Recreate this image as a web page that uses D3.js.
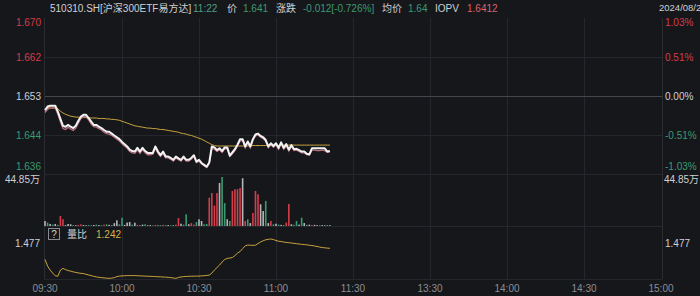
<!DOCTYPE html>
<html>
<head>
<meta charset="utf-8">
<script src="https://cdn.jsdelivr.net/npm/d3@7"></script>
<style>
  html, body { margin: 0; padding: 0; background: #16171b; }
  svg { display: block; font-family: "Liberation Sans", "Noto Sans CJK SC", sans-serif; }
</style>
</head>
<body>
<svg id="chart" width="700" height="296"></svg>
<script>
// DATA -------------------------------------------------------------------
const timeTicks = [0, 30, 60, 90, 120, 150, 180, 210, 240];
const timeLabels = ["09:30", "10:00", "10:30", "11:00", "11:30", "13:30", "14:00", "14:30", "15:00"];

const priceTicks = [1.670, 1.6615, 1.653, 1.6445, 1.636];
const priceLabels = ["1.670", "1.662", "1.653", "1.644", "1.636"];
const pctLabels = ["1.03%", "0.51%", "0.00%", "-0.51%", "-1.03%"];
const prevClose = 1.653;

// one value per minute from 09:30
const price = [1.6499,1.6507,1.6509,1.6509,1.6509,1.6496,1.6480,1.6465,1.6463,1.6467,
  1.6463,1.6460,1.6465,1.6476,1.6485,1.6489,1.6489,1.6482,1.6474,1.6467,
  1.6467,1.6463,1.6460,1.6456,1.6452,1.6452,1.6448,1.6444,1.6440,1.6436,
  1.6430,1.6425,1.6420,1.6413,1.6410,1.6409,1.6417,1.6409,1.6417,1.6410,
  1.6406,1.6406,1.6406,1.6420,1.6409,1.6401,1.6409,1.6398,1.6398,1.6395,
  1.6391,1.6398,1.6394,1.6391,1.6398,1.6391,1.6391,1.6395,1.6401,1.6387,
  1.6391,1.6384,1.6380,1.6376,1.6385,1.6420,1.6418,1.6412,1.6416,1.6410,
  1.6418,1.6418,1.6400,1.6407,1.6414,1.6424,1.6436,1.6436,1.6420,1.6431,
  1.6420,1.6436,1.6446,1.6448,1.6443,1.6440,1.6434,1.6420,1.6427,1.6421,
  1.6427,1.6417,1.6429,1.6417,1.6425,1.6413,1.6423,1.6414,1.6415,1.6412,
  1.6409,1.6409,1.6404,1.6403,1.6416,1.6416,1.6416,1.6416,1.6416,1.6416,
  1.6409,1.6410];

const iopv = [1.6494,1.6501,1.6504,1.6503,1.6504,1.6490,1.6474,1.6459,1.6457,1.6462,
  1.6458,1.6455,1.6460,1.6471,1.6481,1.6485,1.6485,1.6478,1.6469,1.6463,
  1.6462,1.6459,1.6456,1.6451,1.6448,1.6447,1.6444,1.6440,1.6436,1.6432,
  1.6426,1.6421,1.6416,1.6409,1.6406,1.6405,1.6412,1.6405,1.6413,1.6406,
  1.6402,1.6402,1.6403,1.6416,1.6405,1.6398,1.6405,1.6395,1.6395,1.6392,
  1.6388,1.6395,1.6391,1.6388,1.6395,1.6388,1.6388,1.6392,1.6398,1.6385,
  1.6388,1.6382,1.6378,1.6374,1.6383,1.6416,1.6414,1.6409,1.6413,1.6407,
  1.6415,1.6415,1.6398,1.6404,1.6411,1.6421,1.6432,1.6433,1.6417,1.6428,
  1.6417,1.6433,1.6443,1.6445,1.6440,1.6437,1.6431,1.6417,1.6424,1.6418,
  1.6424,1.6414,1.6426,1.6414,1.6422,1.6410,1.6420,1.6411,1.6412,1.6409,
  1.6406,1.6406,1.6402,1.6401,1.6412,1.6412,1.6411,1.6411,1.6412,1.6411,
  1.6407,1.6408];

const avgPrice = [1.6500,1.6504,1.6506,1.6506,1.6505,1.6502,1.6497,1.6493,1.6490,1.6488,
  1.6486,1.6485,1.6484,1.6484,1.6483,1.6483,1.6483,1.6483,1.6482,1.6482,
  1.6482,1.6481,1.6481,1.6481,1.6480,1.6480,1.6479,1.6479,1.6478,1.6477,
  1.6475,1.6473,1.6471,1.6469,1.6467,1.6465,1.6464,1.6463,1.6462,1.6461,
  1.6460,1.6460,1.6459,1.6459,1.6458,1.6457,1.6457,1.6456,1.6455,1.6454,
  1.6453,1.6452,1.6451,1.6449,1.6448,1.6447,1.6445,1.6444,1.6442,1.6440,
  1.6438,1.6436,1.6433,1.6430,1.6427,1.6424,1.6422,1.6421,1.6421,1.6421,
  1.6421,1.6421,1.6421,1.6421,1.6421,1.6421,1.6421,1.6421,1.6421,1.6421,
  1.6422,1.6422,1.6422,1.6422,1.6422,1.6422,1.6422,1.6422,1.6422,1.6422,
  1.6422,1.6422,1.6423,1.6423,1.6423,1.6423,1.6423,1.6423,1.6423,1.6423,
  1.6423,1.6423,1.6423,1.6423,1.6423,1.6423,1.6423,1.6423,1.6423,1.6423,
  1.6423,1.6423];

// volume in 万, and direction of each minute: u = up, d = down, f = flat
const volume = [4.4,3.0,1.8,1.3,1.8,1.0,8.8,5.9,0.8,1.8,
  1.5,0.8,0.7,1.0,1.5,0.8,0.6,0.8,0.7,0.9,
  1.2,0.8,0.6,1.2,1.5,1.0,0.8,2.5,5.0,1.5,
  7.3,1.0,3.0,3.5,1.2,2.9,1.0,0.8,1.2,1.5,
  0.6,0.8,0.5,1.0,0.9,0.8,1.0,0.7,0.8,0.6,
  0.9,1.2,7.0,2.0,1.2,10.3,1.5,2.5,1.2,3.5,
  5.9,4.4,1.5,1.8,24.9,29.0,18.0,29.0,37.8,43.1,
  20.2,5.9,4.4,30.8,32.3,32.3,33.4,42.0,4.4,5.9,
  2.6,11.4,30.8,27.9,19.1,13.2,22.0,2.6,4.4,1.5,
  2.0,1.2,1.0,0.8,3.0,19.4,1.5,1.0,4.4,1.2,
  7.3,2.6,1.0,1.2,0.8,1.0,0.7,0.6,0.8,0.6,
  0.9,0.7];
const volDir = ["f","d","f","d","f","d","u","u","f","f",
  "f","d","f","u","u","f","f","d","d","f",
  "d","f","d","u","d","f","d","f","f","d",
  "d","f","f","f","d","f","u","d","f","d",
  "f","f","d","u","d","d","u","d","f","d",
  "d","u","u","f","d","d","f","u","u","d",
  "f","f","d","d","u","u","u","u","f","d",
  "d","f","d","u","u","u","u","f","u","d",
  "f","u","u","u","f","f","d","f","u","d",
  "f","d","f","d","u","u","f","d","d","f",
  "d","f","d","f","u","f","f","d","f","f",
  "d","f"];
const volMax = 44.85;

// 量比
const ratio = [0.964,0.795,0.694,0.618,0.550,0.540,0.694,0.737,0.707,0.682,
  0.669,0.649,0.636,0.623,0.613,0.606,0.588,0.573,0.555,0.538,
  0.522,0.512,0.505,0.497,0.492,0.485,0.492,0.505,0.530,0.543,
  0.548,0.552,0.555,0.555,0.556,0.555,0.552,0.548,0.546,0.543,
  0.540,0.537,0.535,0.530,0.527,0.524,0.520,0.517,0.512,0.505,
  0.495,0.485,0.510,0.520,0.530,0.535,0.538,0.540,0.541,0.543,
  0.543,0.548,0.553,0.560,0.568,0.618,0.694,0.757,0.820,0.896,
  0.959,0.990,0.997,1.010,1.060,1.123,1.161,1.237,1.300,1.326,
  1.320,1.318,1.320,1.363,1.401,1.434,1.457,1.469,1.477,1.464,
  1.439,1.421,1.414,1.401,1.389,1.384,1.376,1.368,1.358,1.351,
  1.343,1.336,1.331,1.320,1.313,1.300,1.288,1.275,1.262,1.255,
  1.247,1.242];
const ratioMax = 1.477;

// COLORS ---------------------------------------------------------------
const RED = "#d43d4a";
const GREEN = "#3b9a70";
const GRID = "#26272c";
const TXT = "#cfd0d3";
const FS = 10;

// LAYOUT ---------------------------------------------------------------
const svg = d3.select("#chart");
const left = 44, right = 662;
const priceTop = 18, priceBottom = 174;
const volTop = 175, volBottom = 226;
const ratioTop = 239, ratioBottom = 279;

const xScale = d3.scaleLinear().domain([0, 240]).range([45, 661]);
const yPrice = d3.scaleLinear().domain([1.636, 1.670]).range([priceBottom, priceTop]);
const yVol = d3.scaleLinear().domain([0, volMax]).range([volBottom, volTop]);
const yRatio = d3.scaleLinear().domain([0.47, ratioMax]).range([ratioBottom, ratioTop]);

svg.append("rect").attr("width", 700).attr("height", 296).attr("fill", "#16171b");

// grid
const grid = svg.append("g");
grid.selectAll(".vgrid")
  .data(timeTicks.slice(1, -1))
  .enter().append("line")
  .attr("x1", d => Math.round(xScale(d)) + 0.5)
  .attr("x2", d => Math.round(xScale(d)) + 0.5)
  .attr("y1", priceTop).attr("y2", ratioBottom)
  .attr("stroke", GRID);

grid.selectAll(".hgrid")
  .data([1.6615, 1.6445])
  .enter().append("line")
  .attr("x1", left).attr("x2", right)
  .attr("y1", d => Math.round(yPrice(d)) + 0.5)
  .attr("y2", d => Math.round(yPrice(d)) + 0.5)
  .attr("stroke", GRID);

grid.append("line")
  .attr("x1", left).attr("x2", right)
  .attr("y1", Math.round(yPrice(prevClose)) + 0.5)
  .attr("y2", Math.round(yPrice(prevClose)) + 0.5)
  .attr("stroke", "#45464c");

[priceBottom, volBottom, ratioBottom].forEach(y => {
  grid.append("line")
    .attr("x1", left).attr("x2", right)
    .attr("y1", y + 0.5).attr("y2", y + 0.5)
    .attr("stroke", GRID);
});
[left, right].forEach(x => {
  grid.append("line")
    .attr("x1", x + 0.5).attr("x2", x + 0.5)
    .attr("y1", priceTop).attr("y2", ratioBottom)
    .attr("stroke", "#2c2d33");
});

// volume bars
const volColor = { u: RED, d: GREEN, f: "#b4b5b8" };
svg.append("g").selectAll("rect")
  .data(volume)
  .enter().append("rect")
  .attr("x", (d, i) => xScale(i) - 0.8)
  .attr("width", 1.6)
  .attr("y", d => yVol(d))
  .attr("height", d => volBottom - yVol(d))
  .attr("fill", (d, i) => volColor[volDir[i]]);

// price lines
const lineOf = (arr, scale) => d3.line()
  .x((d, i) => xScale(i))
  .y(d => scale(d))(arr);

svg.append("path")
  .attr("d", lineOf(avgPrice, yPrice))
  .attr("fill", "none").attr("stroke", "#c9a43e").attr("stroke-width", 1);

svg.append("path")
  .attr("d", lineOf(iopv, yPrice))
  .attr("fill", "none").attr("stroke", "#b86e7c").attr("stroke-width", 1.3);

svg.append("path")
  .attr("d", lineOf(price, yPrice))
  .attr("fill", "none").attr("stroke", "#f2f2f2").attr("stroke-width", 2)
  .attr("stroke-linejoin", "round");

// ratio line
svg.append("path")
  .attr("d", lineOf(ratio, yRatio))
  .attr("fill", "none").attr("stroke", "#c9a43e").attr("stroke-width", 1);

// price axis labels
const labelColor = i => i < 2 ? RED : (i === 2 ? TXT : GREEN);
const labelY = (d, i) => i === 0 ? yPrice(d) + 4 : (i === 4 ? yPrice(d) - 8 : yPrice(d));

svg.append("g").selectAll("text")
  .data(priceTicks)
  .enter().append("text")
  .attr("x", 41).attr("y", labelY)
  .attr("dy", "0.35em")
  .attr("text-anchor", "end")
  .attr("font-size", FS)
  .attr("fill", (d, i) => labelColor(i))
  .text((d, i) => priceLabels[i]);

svg.append("g").selectAll("text")
  .data(priceTicks)
  .enter().append("text")
  .attr("x", 665).attr("y", labelY)
  .attr("dy", "0.35em")
  .attr("font-size", FS)
  .attr("fill", (d, i) => labelColor(i))
  .text((d, i) => pctLabels[i]);

// volume labels
const volLabel = volMax.toFixed(2) + "万";
svg.append("text").attr("x", 40).attr("y", yVol(volMax) + 4).attr("dy", "0.35em")
  .attr("text-anchor", "end").attr("font-size", FS).attr("fill", TXT).text(volLabel);
svg.append("text").attr("x", 664).attr("y", yVol(volMax) + 4).attr("dy", "0.35em")
  .attr("font-size", FS).attr("fill", TXT).text(volLabel);

// ratio header + labels
svg.append("rect").attr("x", 48.5).attr("y", 228.5).attr("width", 11).attr("height", 11)
  .attr("fill", "none").attr("stroke", "#8a8b90");
svg.append("text").attr("x", 54).attr("y", 234).attr("dy", "0.35em").attr("text-anchor", "middle")
  .attr("font-size", 10).attr("fill", TXT).text("?");
svg.append("text").attr("x", 67).attr("y", 234).attr("dy", "0.35em")
  .attr("font-size", FS).attr("fill", TXT).text("量比");
svg.append("text").attr("x", 96).attr("y", 234).attr("dy", "0.35em")
  .attr("font-size", FS).attr("fill", "#d6b24a").text(ratio[ratio.length - 1].toFixed(3));

svg.append("text").attr("x", 40).attr("y", yRatio(ratioMax) + 4).attr("dy", "0.35em")
  .attr("text-anchor", "end").attr("font-size", FS).attr("fill", TXT).text(ratioMax.toFixed(3));
svg.append("text").attr("x", 665).attr("y", yRatio(ratioMax) + 4).attr("dy", "0.35em")
  .attr("font-size", FS).attr("fill", TXT).text(ratioMax.toFixed(3));

// time axis
svg.append("g").selectAll("text")
  .data(timeTicks)
  .enter().append("text")
  .attr("x", d => xScale(d))
  .attr("y", 288).attr("dy", "0.35em")
  .attr("text-anchor", "middle")
  .attr("font-size", FS)
  .attr("fill", "#8c8d92")
  .text((d, i) => timeLabels[i]);

// HEADER ---------------------------------------------------------------
svg.append("rect").attr("width", 700).attr("height", 17).attr("fill", "#16171b");
const header = [
  { x: 50, t: "510310.SH[沪深300ETF易方达]", c: TXT, s: FS },
  { x: 193, t: "11:22", c: "#4d9f86", s: FS },
  { x: 227, t: "价", c: TXT, s: FS },
  { x: 243, t: price[price.length - 1].toFixed(3), c: GREEN, s: FS },
  { x: 276, t: "涨跌", c: TXT, s: FS },
  { x: 303, t: "-0.012[-0.726%]", c: GREEN, s: FS },
  { x: 382, t: "均价", c: TXT, s: FS },
  { x: 408, t: "1.64", c: GREEN, s: FS },
  { x: 435, t: "IOPV", c: TXT, s: FS },
  { x: 467, t: "1.6412", c: "#d9626e", s: FS },
  { x: 659, t: "2024/08/26", c: TXT, s: 9.5 }
];
svg.append("g").selectAll("text")
  .data(header)
  .enter().append("text")
  .attr("x", d => d.x).attr("y", 8).attr("dy", "0.35em")
  .attr("font-size", d => d.s)
  .attr("fill", d => d.c)
  .text(d => d.t);
</script>
</body>
</html>
